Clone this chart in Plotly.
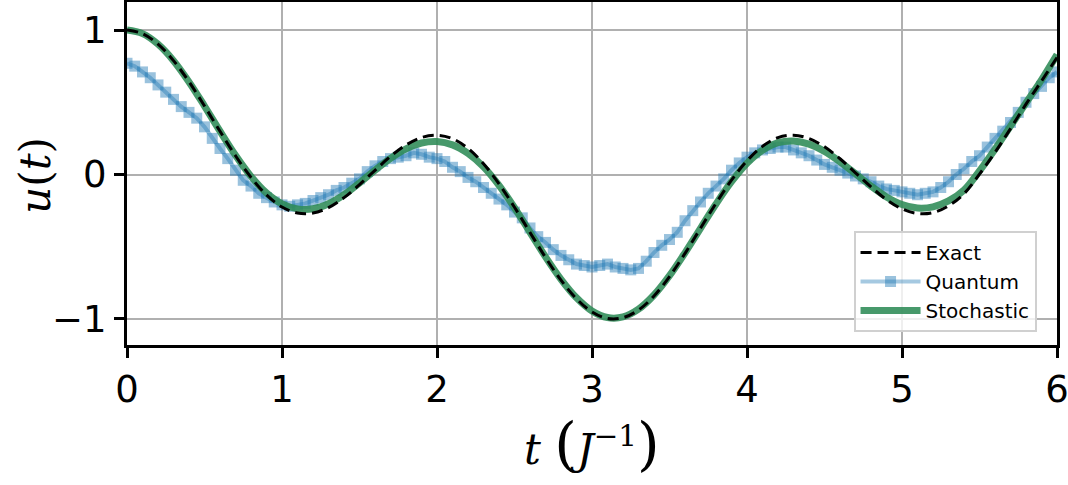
import plotly.graph_objects as go

# Datos
t_fine = [round(0.1 * i, 1) for i in range(61)]
exact = [1.0, 0.975, 0.903, 0.788, 0.642, 0.474, 0.299, 0.130, -0.020, -0.141,
         -0.225, -0.267, -0.267, -0.229, -0.160, -0.070, 0.029, 0.125, 0.204, 0.256,
         0.272, 0.248, 0.181, 0.075, -0.065, -0.227, -0.401, -0.574, -0.731, -0.860,
         -0.951, -0.996, -0.991, -0.938, -0.841, -0.706, -0.546, -0.372, -0.199, -0.039,
         0.095, 0.195, 0.255, 0.272, 0.249, 0.192, 0.109, 0.012, -0.086, -0.174,
         -0.238, -0.270, -0.264, -0.217, -0.133, 0.003, 0.153, 0.318, 0.487, 0.647,
         0.810]
stochastic = [1.0, 0.975, 0.902, 0.788, 0.641, 0.474, 0.300, 0.133, -0.013, -0.128,
              -0.203, -0.238, -0.237, -0.202, -0.140, -0.058, 0.030, 0.112, 0.178, 0.218,
              0.228, 0.205, 0.146, 0.053, -0.075, -0.230, -0.400, -0.570, -0.725, -0.853,
              -0.944, -0.990, -0.986, -0.932, -0.834, -0.700, -0.542, -0.372, -0.204, -0.050,
              0.078, 0.168, 0.220, 0.232, 0.210, 0.160, 0.088, 0.005, -0.080, -0.155,
              -0.208, -0.232, -0.224, -0.183, -0.108, 0.025, 0.175, 0.335, 0.495, 0.655,
              0.830]

t_q = [round(0.05 * i, 2) for i in range(121)]
quantum = [0.77, 0.75, 0.71, 0.67, 0.62, 0.57, 0.52, 0.47, 0.43, 0.39,
           0.33, 0.25, 0.18, 0.11, 0.03, -0.04, -0.08, -0.13, -0.16, -0.19,
           -0.21, -0.22, -0.21, -0.20, -0.18, -0.16, -0.14, -0.11, -0.09, -0.06,
           -0.03, 0.02, 0.06, 0.09, 0.11, 0.12, 0.13, 0.15, 0.14, 0.12,
           0.11, 0.09, 0.05, 0.02, -0.02, -0.05, -0.09, -0.13, -0.17, -0.21,
           -0.26, -0.30, -0.37, -0.43, -0.47, -0.52, -0.56, -0.59, -0.62, -0.63,
           -0.64, -0.63, -0.62, -0.64, -0.65, -0.66, -0.65, -0.60, -0.54, -0.49,
           -0.45, -0.40, -0.32, -0.25, -0.19, -0.13, -0.08, -0.03, 0.03, 0.08,
           0.12, 0.15, 0.17, 0.18, 0.19, 0.19, 0.17, 0.15, 0.13, 0.10,
           0.07, 0.05, 0.03, 0.01, -0.01, -0.03, -0.05, -0.08, -0.10, -0.11,
           -0.12, -0.13, -0.14, -0.13, -0.12, -0.09, -0.05, 0.00, 0.04, 0.09,
           0.13, 0.19, 0.25, 0.30, 0.36, 0.43, 0.50, 0.56, 0.61, 0.67,
           0.71]

x_ticks = [0, 1, 2, 3, 4, 5, 6]
y_ticks = [-1, 0, 1]
y_tick_labels = ["\u22121", "0", "1"]

fig = go.Figure()
fig.add_trace(go.Scatter(x=t_q, y=quantum, name="Quantum", mode="lines+markers",
                         line=dict(color="rgba(31,119,180,0.4)", width=4),
                         marker=dict(symbol="square", size=11, color="rgba(31,119,180,0.45)"),
                         legendrank=2))
fig.add_trace(go.Scatter(x=t_fine, y=stochastic, name="Stochastic", mode="lines",
                         line=dict(color="rgba(46,139,87,0.88)", width=7, shape="spline"),
                         legendrank=3))
fig.add_trace(go.Scatter(x=t_fine, y=exact, name="Exact", mode="lines",
                         line=dict(color="black", width=3, dash="11px,6px", shape="spline"),
                         legendrank=1))

fig.update_layout(
    width=1068, height=485,
    margin=dict(l=127, r=11, t=2, b=140, autoexpand=False),
    plot_bgcolor="white", paper_bgcolor="white",
    font=dict(family="DejaVu Sans", size=37, color="black"),
    legend=dict(x=0.978, y=0.038, xanchor="right", yanchor="bottom",
                font=dict(size=20), bgcolor="rgba(255,255,255,0.8)",
                bordercolor="#d0d0d0", borderwidth=2, tracegroupgap=0,
                itemwidth=60),
    annotations=[
        dict(text="<i>u</i>(<i>t</i>)", textangle=-90, xref="paper", yref="paper",
             x=-0.098, y=0.496, xanchor="center", yanchor="middle", showarrow=False,
             font=dict(family="DejaVu Serif", size=42)),
        dict(text="<i>t</i> <span style='font-size:58px'>(</span><i>J</i><sup>\u22121</sup>"
                  "<span style='font-size:58px'>)</span>",
             xref="paper", yref="paper", x=0.5, y=-0.29, xanchor="center", yanchor="middle",
             showarrow=False, font=dict(family="DejaVu Serif", size=42)),
    ],
)
fig.update_xaxes(range=[0, 6], tickvals=x_ticks, showgrid=True, gridcolor="#b0b0b0",
                 gridwidth=2, showline=True, linecolor="black", linewidth=3, mirror=True,
                 ticks="outside", ticklen=10, tickwidth=2.5, tickcolor="black", zeroline=False,
                 automargin=False, ticklabeloverflow="allow")
fig.update_yaxes(range=[-1.18, 1.194], tickvals=y_ticks, ticktext=y_tick_labels,
                 showgrid=True, gridcolor="#b0b0b0", gridwidth=2, showline=True,
                 linecolor="black", linewidth=3, mirror=True, ticks="outside", ticklen=10,
                 tickwidth=2.5, tickcolor="black", zeroline=False, automargin=False)

# quitar el margen del body para que la figura quede en (0, 0)
fig.write_html("out.html", config={"displayModeBar": False},
               post_script="document.body.style.margin='0';")
